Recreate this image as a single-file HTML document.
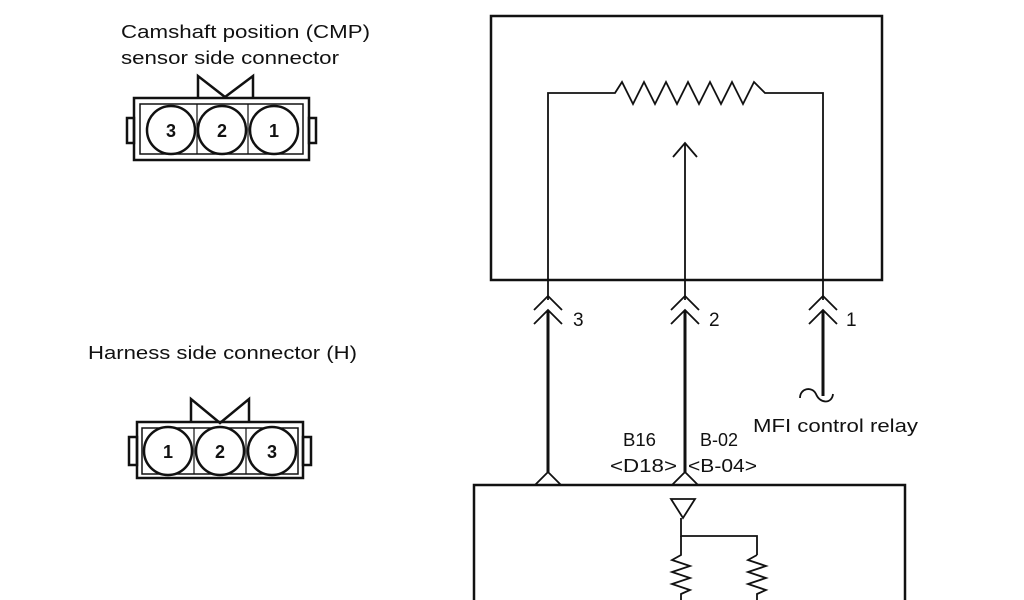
<!DOCTYPE html>
<html><head><style>body{margin:0;background:#fff}svg{display:block}text{font-family:"Liberation Sans",sans-serif;fill:#111}</style></head><body>
<svg width="1024" height="600" viewBox="0 0 1024 600" xmlns="http://www.w3.org/2000/svg">
<g stroke="#111" fill="none">
<g stroke-width="2.5">
<rect x="134" y="98" width="175" height="62"/>
<rect x="140" y="104" width="163" height="50" stroke-width="1.5"/>
<rect x="127" y="118" width="7" height="25"/>
<rect x="309" y="118" width="7" height="25"/>
<polyline points="198,98 198,76 225,97 253,76 253,98"/>
<line x1="197" y1="104" x2="197" y2="154" stroke-width="1.2"/>
<line x1="248" y1="104" x2="248" y2="154" stroke-width="1.2"/>
<circle cx="171" cy="130" r="24" fill="#fff"/>
<circle cx="222" cy="130" r="24" fill="#fff"/>
<circle cx="274" cy="130" r="24" fill="#fff"/>
</g>
<g stroke-width="2.5">
<rect x="137" y="422" width="166" height="56"/>
<rect x="142" y="428" width="156" height="46" stroke-width="1.5"/>
<rect x="129" y="437" width="8" height="28"/>
<rect x="303" y="437" width="8" height="28"/>
<polyline points="191,422 191,399 220,423 249,399 249,422"/>
<line x1="194" y1="428" x2="194" y2="474" stroke-width="1.2"/>
<line x1="246" y1="428" x2="246" y2="474" stroke-width="1.2"/>
<circle cx="168" cy="451" r="24" fill="#fff"/>
<circle cx="220" cy="451" r="24" fill="#fff"/>
<circle cx="272" cy="451" r="24" fill="#fff"/>
</g>
<rect x="491" y="16" width="391" height="264" stroke-width="2.5"/>
<polyline stroke-width="1.8" points="548,280 548,93 615,93 622,82 633,104 644,82 655,104 666,82 677,104 688,82 699,104 710,82 721,104 732,82 743,104 754,82 765,93 823,93 823,280"/>
<line x1="685" y1="280" x2="685" y2="143" stroke-width="1.8"/>
<polyline points="673,157 685,143 697,157" stroke-width="1.8"/>
<g stroke-width="1.8">
<line x1="548" y1="280" x2="548" y2="300"/>
<line x1="685" y1="280" x2="685" y2="300"/>
<line x1="823" y1="280" x2="823" y2="300"/>
<polyline points="534,310 548,296 562,310"/><polyline points="534,324 548,310 562,324"/>
<polyline points="671,310 685,296 699,310"/><polyline points="671,324 685,310 699,324"/>
<polyline points="809,310 823,296 837,310"/><polyline points="809,324 823,310 837,324"/>
</g>
<g stroke-width="3">
<line x1="548" y1="311" x2="548" y2="472"/>
<line x1="685" y1="311" x2="685" y2="472"/>
<line x1="823" y1="311" x2="823" y2="396"/>
</g>
<path d="M800,398 C800,388 812,386 816,394 C820,404 832,404 833,394" stroke-width="1.8"/>
<g stroke-width="1.8">
<polyline points="535,485 548,472 561,485"/>
<polyline points="672,485 685,472 698,485"/>
</g>
<rect x="474" y="485" width="431" height="130" stroke-width="2.5"/>
<g stroke-width="1.8">
<polygon points="671,499 695,499 683,518"/>
<polyline points="681,518 681,536 757,536 757,555"/>
<polyline points="681,536 681,555 672,560 690,566 672,572 690,578 672,584 690,590 681,594 681,600"/>
<polyline points="757,555 748,560 766,566 748,572 766,578 748,584 766,590 757,594 757,600"/>
</g>
</g>
<g font-size="18">
<text x="121" y="38" textLength="249" lengthAdjust="spacingAndGlyphs">Camshaft  position (CMP)</text>
<text x="121" y="64" textLength="218" lengthAdjust="spacingAndGlyphs">sensor side connector</text>
<text x="88" y="359" textLength="269" lengthAdjust="spacingAndGlyphs">Harness side connector (H)</text>
<text x="753" y="432" textLength="165" lengthAdjust="spacingAndGlyphs">MFI control relay</text>
<text x="623" y="446" textLength="33" lengthAdjust="spacingAndGlyphs">B16</text>
<text x="700" y="446" textLength="38" lengthAdjust="spacingAndGlyphs">B-02</text>
<text x="610" y="472" textLength="67" lengthAdjust="spacingAndGlyphs">&lt;D18&gt;</text>
<text x="688" y="472" textLength="69" lengthAdjust="spacingAndGlyphs">&lt;B-04&gt;</text>
</g>
<g font-size="19">
<text x="573" y="326">3</text><text x="709" y="326">2</text><text x="846" y="326">1</text>
</g>
<g font-size="18" font-weight="bold" text-anchor="middle">
<text x="171" y="137">3</text><text x="222" y="137">2</text><text x="274" y="137">1</text>
<text x="168" y="458">1</text><text x="220" y="458">2</text><text x="272" y="458">3</text>
</g>
</svg>
</body></html>
